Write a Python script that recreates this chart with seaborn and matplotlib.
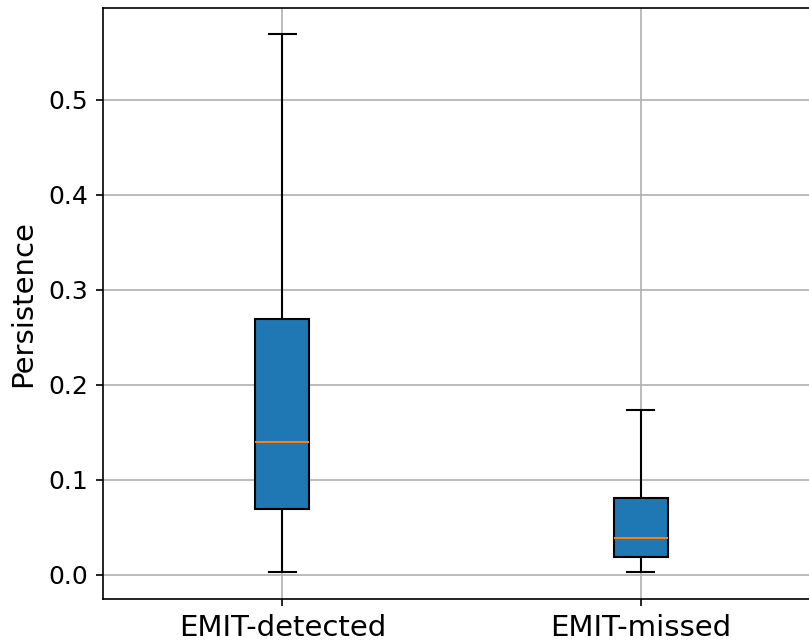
import numpy as np
import pandas as pd
import matplotlib
matplotlib.use("Agg")
import matplotlib.pyplot as plt
import seaborn as sns

# Five-number summaries (min, Q1, median, Q3, max)
categories = ["EMIT-detected", "EMIT-missed"]
detected_values = [0.003, 0.069, 0.140, 0.269, 0.569]
missed_values = [0.003, 0.019, 0.039, 0.081, 0.174]
yticks = [0.0, 0.1, 0.2, 0.3, 0.4, 0.5]

df = pd.DataFrame({
    "group": [categories[0]] * len(detected_values) + [categories[1]] * len(missed_values),
    "Persistence": detected_values + missed_values,
})

dpi = 150
fig = plt.figure(figsize=(809 / dpi, 643 / dpi), dpi=dpi)
ax = fig.add_axes([103 / 809, 44 / 643, 717 / 809, 591 / 643])

sns.boxplot(
    data=df, x="group", y="Persistence", ax=ax,
    whis=(0, 100), width=0.15, color="#1f77b4", saturation=1,
    linecolor="black", linewidth=1.0, showfliers=False,
    medianprops={"color": "#ff7f0e", "linewidth": 1.0},
)

ax.set_xlim(-0.5, 1.5)
ax.set_ylim(-0.0253, 0.5968)
ax.set_yticks(yticks)
ax.set_yticklabels([f"{t:.1f}" for t in yticks], fontsize=12)
ax.tick_params(axis="x", labelsize=14)
ax.set_xlabel("")
ax.set_ylabel("Persistence", fontsize=14, labelpad=5.5)
ax.grid(True, color="#b0b0b0", linewidth=0.8)
ax.set_axisbelow(True)
for s in ax.spines.values():
    s.set_linewidth(0.8)
    s.set_color("black")

fig.savefig("out.png", dpi=dpi)
